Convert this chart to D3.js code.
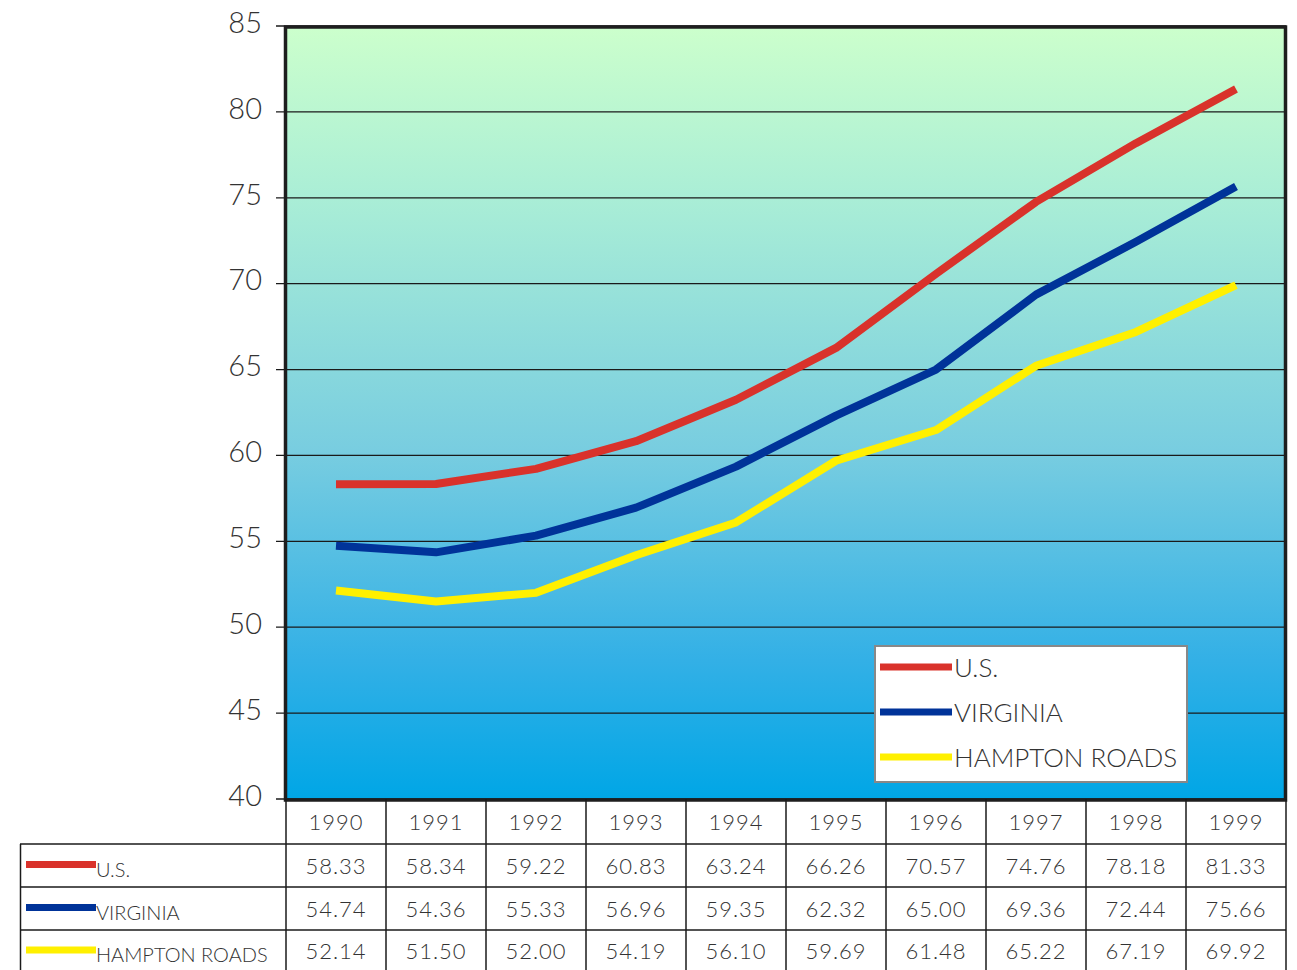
<!DOCTYPE html>
<html><head><meta charset="utf-8">
<script src="https://cdn.jsdelivr.net/npm/d3@7"></script>
<style>body{margin:0;background:#fff}svg{display:block}text{font-family:Lato,"Open Sans",sans-serif;font-weight:300;fill:#333}</style>
</head><body>
<svg id="c" width="1297" height="970"></svg>
<script>
const years = ["1990","1991","1992","1993","1994","1995","1996","1997","1998","1999"];
const seriesNames = ["U.S.","VIRGINIA","HAMPTON ROADS"];
const usValues = [58.33,58.34,59.22,60.83,63.24,66.26,70.57,74.76,78.18,81.33];
const vaValues = [54.74,54.36,55.33,56.96,59.35,62.32,65.00,69.36,72.44,75.66];
const hrValues = [52.14,51.50,52.00,54.19,56.10,59.69,61.48,65.22,67.19,69.92];
const yTicks = [40,45,50,55,60,65,70,75,80,85];
const seriesColors = ["#d9322b","#003399","#fff000"];

const series = seriesNames.map((n,i)=>({name:n,color:seriesColors[i],values:[usValues,vaValues,hrValues][i]}));

const svg = d3.select("#c");
const L=286, R=1286, T=26, B=799;
const x = d3.scaleBand().domain(years).range([L,R]);
const y = d3.scaleLinear().domain([40,85]).range([B,T]);

const defs = svg.append("defs");
const g = defs.append("linearGradient").attr("id","bg").attr("x1",0).attr("y1",0).attr("x2",0).attr("y2",1);
[["0%","#ccffcc"],["22%","#aaeed6"],["55%","#78cde0"],["82%","#33b0e6"],["100%","#00a6e6"]].forEach(s=>
  g.append("stop").attr("offset",s[0]).attr("stop-color",s[1]));

svg.append("rect").attr("x",L).attr("y",T).attr("width",R-L).attr("height",B-T).attr("fill","url(#bg)");

// gridlines
svg.append("g").selectAll("line").data(yTicks).join("line")
  .attr("x1",276).attr("x2",R).attr("y1",d=>y(d)).attr("y2",d=>y(d))
  .attr("stroke","#1a1a1a").attr("stroke-width",1.3);

// y axis labels
const yAxis = d3.axisLeft(y).tickValues(yTicks).tickSize(0).tickPadding(0);
const ya = svg.append("g").attr("transform",`translate(262,-3)`).call(yAxis);
ya.select(".domain").remove();
ya.selectAll("text").attr("font-size",29).attr("fill","#333").style("font-family","Lato,sans-serif").style("font-weight",300).attr("dy","0.32em");

// lines
const line = d3.line().x((d,i)=>x(years[i])+x.bandwidth()/2).y(d=>y(d));
svg.append("g").selectAll("path").data(series).join("path")
  .attr("d",d=>line(d.values)).attr("fill","none").attr("stroke",d=>d.color)
  .attr("stroke-width",8).attr("stroke-linejoin","round");

// frame
svg.append("rect").attr("x",L-0.5).attr("y",T+1).attr("width",R-L).attr("height",B-T).attr("fill","none")
  .attr("stroke","#1e1e1e").attr("stroke-width",3.5);

// legend box
const lg = svg.append("g");
lg.append("rect").attr("x",875).attr("y",646).attr("width",312).attr("height",136).attr("fill","#fff").attr("stroke","#888").attr("stroke-width",2);
series.forEach((s,i)=>{
  const yy = 667 + i*45;
  lg.append("line").attr("x1",880).attr("x2",952).attr("y1",yy).attr("y2",yy).attr("stroke",s.color).attr("stroke-width",7);
  lg.append("text").attr("x",954).attr("y",yy+10).attr("font-size",26).text(s.name);
});

// table
const tb = svg.append("g");
const rowY = [799,844,887,930,972];
const stroke = "#1a1a1a";
tb.selectAll("text.yr").data(years).join("text").attr("class","yr")
  .attr("x",d=>x(d)+x.bandwidth()/2).attr("y",830).attr("text-anchor","middle").attr("font-size",22).attr("letter-spacing",1).text(d=>d);
[844,887,930].forEach(v=>{
  tb.append("line").attr("x1",20).attr("x2",R).attr("y1",v).attr("y2",v).attr("stroke",stroke).attr("stroke-width",1.5);
});
const vx = years.map(d=>x(d)).concat([R]);
vx.forEach(v=>{
  tb.append("line").attr("x1",v).attr("x2",v).attr("y1",799).attr("y2",972).attr("stroke",stroke).attr("stroke-width",1.5);
});
tb.append("line").attr("x1",20.5).attr("x2",20.5).attr("y1",844).attr("y2",972).attr("stroke",stroke).attr("stroke-width",1.5);
series.forEach((s,i)=>{
  const cy = (rowY[i+1]+rowY[i+2])/2;
  tb.append("line").attr("x1",26).attr("x2",96).attr("y1",cy-1).attr("y2",cy-1).attr("stroke",s.color).attr("stroke-width",7);
  tb.append("text").attr("x",96).attr("y",cy+11).attr("font-size",20).text(s.name);
  tb.selectAll(null).data(s.values).join("text")
    .attr("x",(d,j)=>x(years[j])+x.bandwidth()/2).attr("y",cy+8).attr("text-anchor","middle")
    .attr("font-size",22).attr("letter-spacing",1).text(d=>d.toFixed(2));
});
</script>
</body></html>
